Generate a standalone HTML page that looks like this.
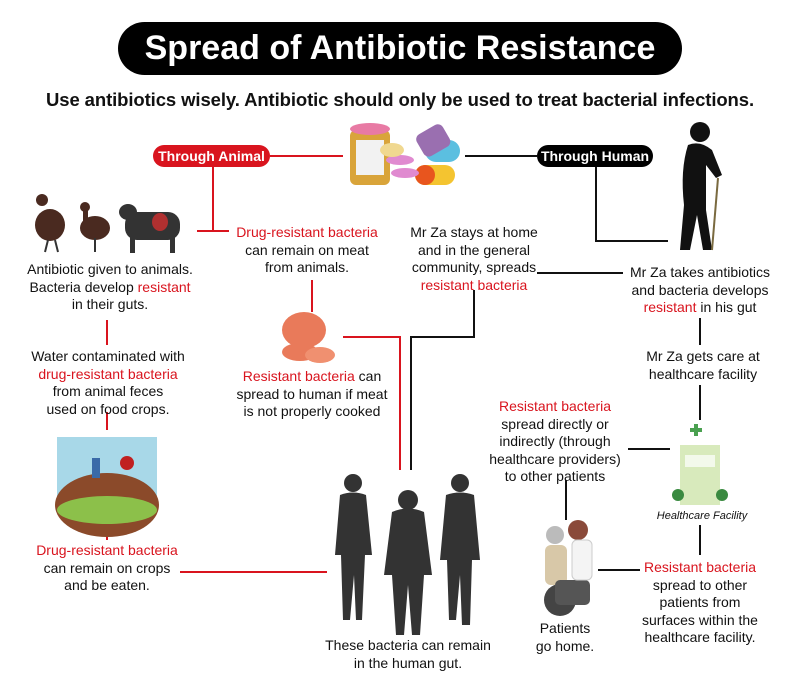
<!DOCTYPE html>
<html><head><meta charset="utf-8"><style>
*{margin:0;padding:0;box-sizing:border-box}
body{width:800px;height:682px;background:#fff;position:relative;overflow:hidden;font-family:"Liberation Sans Narrow","Liberation Sans",sans-serif;color:#111}
.a{position:absolute}
.t{position:absolute;text-align:center;font-size:14px;line-height:17.5px;white-space:nowrap;transform:translateX(-50%)}
.r{color:#d9141e}
.h{position:absolute;height:2px}
.v{position:absolute;width:2px}
.red{background:#d9141e}.blk{background:#111}
.pill{position:absolute;border-radius:12px;color:#fff;font-weight:bold;font-size:14px;text-align:center;line-height:22px;font-family:"Liberation Sans",sans-serif}
</style></head><body>
<div class="a" style="left:118px;top:22px;width:564px;height:53px;background:#000;border-radius:27px;color:#fff;font:bold 34px/53px 'Liberation Sans Narrow','Liberation Sans',sans-serif;text-align:center">Spread of Antibiotic Resistance</div>
<div class="a" style="left:0;width:800px;top:89px;text-align:center;font:bold 18.5px/22px 'Liberation Sans',sans-serif;letter-spacing:-0.1px">Use antibiotics wisely. Antibiotic should only be used to treat bacterial infections.</div>

<div class="pill" style="left:153px;top:145px;width:117px;background:#d9141e">Through Animal</div>
<div class="pill" style="left:537px;top:145px;width:116px;background:#000">Through Human</div>

<div class="h red" style="left:270px;top:155px;width:73px"></div>
<div class="v red" style="left:212px;top:167px;height:64px"></div>
<div class="h red" style="left:197px;top:230px;width:32px"></div>
<div class="h blk" style="left:465px;top:155px;width:72px"></div>
<div class="v blk" style="left:595px;top:167px;height:75px"></div>
<div class="h blk" style="left:595px;top:240px;width:73px"></div>
<div class="v red" style="left:106px;top:320px;height:25px"></div>
<div class="v red" style="left:106px;top:412px;height:18px"></div>
<div class="v red" style="left:106px;top:512px;height:28px"></div>
<div class="h red" style="left:180px;top:571px;width:147px"></div>
<div class="v red" style="left:311px;top:280px;height:32px"></div>
<div class="h red" style="left:343px;top:336px;width:58px"></div>
<div class="v red" style="left:399px;top:336px;height:134px"></div>
<div class="h blk" style="left:537px;top:272px;width:86px"></div>
<div class="v blk" style="left:473px;top:290px;height:48px"></div>
<div class="h blk" style="left:410px;top:336px;width:65px"></div>
<div class="v blk" style="left:410px;top:336px;height:134px"></div>
<div class="v blk" style="left:699px;top:318px;height:27px"></div>
<div class="v blk" style="left:699px;top:385px;height:35px"></div>
<div class="v blk" style="left:699px;top:525px;height:30px"></div>
<div class="h blk" style="left:628px;top:448px;width:42px"></div>
<div class="v blk" style="left:565px;top:480px;height:40px"></div>
<div class="h blk" style="left:598px;top:569px;width:42px"></div>

<div class="t" style="left:110px;top:261px">Antibiotic given to animals.<br>Bacteria develop <span class="r">resistant</span><br>in their guts.</div>
<div class="t" style="left:108px;top:348px">Water contaminated with<br><span class="r">drug-resistant bacteria</span><br>from animal feces<br>used on food crops.</div>
<div class="t" style="left:107px;top:542px"><span class="r">Drug-resistant bacteria</span><br>can remain on crops<br>and be eaten.</div>
<div class="t" style="left:307px;top:224px"><span class="r">Drug-resistant bacteria</span><br>can remain on meat<br>from animals.</div>
<div class="t" style="left:312px;top:368px"><span class="r">Resistant bacteria</span> can<br>spread to human if meat<br>is not properly cooked</div>
<div class="t" style="left:474px;top:224px">Mr Za stays at home<br>and in the general<br>community, spreads<br><span class="r">resistant bacteria</span></div>
<div class="t" style="left:700px;top:264px">Mr Za takes antibiotics<br>and bacteria develops<br><span class="r">resistant</span> in his gut</div>
<div class="t" style="left:703px;top:348px">Mr Za gets care at<br>healthcare facility</div>
<div class="t" style="left:555px;top:398px"><span class="r">Resistant bacteria</span><br>spread directly or<br>indirectly (through<br>healthcare providers)<br>to other patients</div>
<div class="t" style="left:702px;top:508px;font-size:11px;font-style:italic">Healthcare Facility</div>
<div class="t" style="left:700px;top:559px"><span class="r">Resistant bacteria</span><br>spread to other<br>patients from<br>surfaces within the<br>healthcare facility.</div>
<div class="t" style="left:565px;top:620px">Patients<br>go home.</div>
<div class="t" style="left:408px;top:637px">These bacteria can remain<br>in the human gut.</div>

<svg class="a" style="left:0;top:0" width="800" height="682">
<rect x="350" y="130" width="40" height="55" rx="6" fill="#d9a43a"/>
<rect x="356" y="140" width="28" height="35" fill="#f2f2f2"/>
<ellipse cx="370" cy="129" rx="20" ry="6" fill="#e87aa4"/>
<rect x="425" y="140" width="35" height="22" rx="11" fill="#5bbfe0"/>
<rect x="415" y="165" width="40" height="20" rx="10" fill="#f4c430"/>
<rect x="415" y="165" width="20" height="20" rx="10" fill="#e8551e"/>
<rect x="418" y="128" width="30" height="25" rx="6" fill="#9a6fb0" transform="rotate(-30 433 140)"/>
<ellipse cx="400" cy="160" rx="14" ry="5" fill="#e08ad0"/><ellipse cx="405" cy="173" rx="14" ry="5" fill="#e08ad0"/>
<ellipse cx="392" cy="150" rx="12" ry="7" fill="#f0d890"/>
<ellipse cx="50" cy="225" rx="15" ry="16" fill="#4a2a20"/><circle cx="42" cy="200" r="6" fill="#4a2a20"/>
<line x1="48" y1="240" x2="45" y2="252" stroke="#333" stroke-width="2"/><line x1="55" y1="240" x2="58" y2="252" stroke="#333" stroke-width="2"/>
<ellipse cx="95" cy="228" rx="15" ry="12" fill="#4a2a20"/><circle cx="85" cy="207" r="5" fill="#4a2a20"/><rect x="83" y="208" width="5" height="18" fill="#4a2a20"/>
<line x1="95" y1="238" x2="95" y2="252" stroke="#333" stroke-width="2"/>
<rect x="125" y="212" width="55" height="28" rx="12" fill="#333"/><ellipse cx="128" cy="212" rx="9" ry="8" fill="#333"/>
<rect x="130" y="235" width="5" height="18" fill="#333"/><rect x="170" y="235" width="5" height="18" fill="#333"/>
<ellipse cx="160" cy="222" rx="8" ry="9" fill="#b03030"/>
<rect x="57" y="437" width="100" height="70" fill="#a8d8e8"/>
<ellipse cx="107" cy="505" rx="52" ry="32" fill="#8b4a2a"/>
<ellipse cx="107" cy="510" rx="50" ry="14" fill="#8cc04a"/>
<rect x="92" y="458" width="8" height="20" fill="#3a6aa8"/><circle cx="127" cy="463" r="7" fill="#c02020"/>
<ellipse cx="304" cy="330" rx="22" ry="18" fill="#e97a5a"/>
<ellipse cx="300" cy="352" rx="18" ry="9" fill="#e97a5a"/><ellipse cx="320" cy="355" rx="15" ry="8" fill="#f09070"/>
<g fill="#111"><circle cx="700" cy="132" r="10"/><path d="M688 145 Q700 140 712 150 L722 175 L716 178 L706 165 L706 210 L712 250 L703 250 L697 215 L690 250 L680 250 L684 205 Q680 170 688 145Z"/></g>
<line x1="718" y1="178" x2="712" y2="250" stroke="#7a6a40" stroke-width="2"/>
<g fill="#333">
<circle cx="353" cy="483" r="9"/><path d="M340 495 Q353 490 366 495 L372 555 L365 555 L362 620 L356 620 L354 575 L350 620 L343 620 L341 555 L335 555Z"/>
<circle cx="408" cy="500" r="10"/><path d="M392 512 Q408 505 424 512 L432 575 L424 575 L420 635 L412 635 L408 585 L404 635 L396 635 L392 575 L384 575Z"/>
<circle cx="460" cy="483" r="9"/><path d="M446 495 Q460 490 474 495 L480 560 L472 560 L470 625 L462 625 L460 575 L456 620 L449 620 L447 560 L440 560Z"/>
</g>
<rect x="680" y="445" width="40" height="60" fill="#d8eabc"/>
<rect x="690" y="428" width="12" height="4" fill="#4aa050"/><rect x="694" y="424" width="4" height="12" fill="#4aa050"/>
<rect x="685" y="455" width="30" height="12" fill="#fff" opacity=".7"/>
<circle cx="678" cy="495" r="6" fill="#3a8a40"/><circle cx="722" cy="495" r="6" fill="#3a8a40"/>
<circle cx="555" cy="535" r="9" fill="#bbb"/><rect x="545" y="545" width="22" height="40" rx="6" fill="#d8c8a8"/>
<circle cx="560" cy="600" r="16" fill="#444"/><rect x="555" y="580" width="35" height="25" rx="5" fill="#555"/>
<circle cx="578" cy="530" r="10" fill="#8a4a3a"/><rect x="572" y="540" width="20" height="40" rx="5" fill="#f4f4f4" stroke="#ccc"/>
</svg>
</body></html>
